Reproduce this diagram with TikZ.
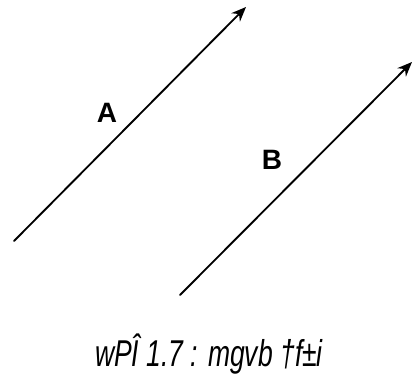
\documentclass[tikz,border=0pt]{standalone}
\usepackage{fontspec}
\setmainfont{Liberation Sans}
\usetikzlibrary{arrows.meta,positioning}

\begin{document}
\begin{tikzpicture}[x=0.75pt,y=-0.75pt,line cap=round,line join=round]
  \path[use as bounding box] (0,0) rectangle (413,379);
  \tikzset{vecline/.style={black,line width=1.4pt,-{Stealth[length=11pt,width=9pt]}}}

  % Two parallel vectors of equal length.
  \coordinate (Atail) at (14,241);
  \coordinate (Ahead) at (246,7);
  \coordinate (Btail) at (180,295);
  \coordinate (Bhead) at (412,62);
  \draw[vecline] (Atail) -- (Ahead);
  \draw[vecline] (Btail) -- (Bhead);

  \node[font=\fontsize{21}{24}\selectfont\bfseries] (labA) at (107,113) {A};
  \node[font=\fontsize{21}{24}\selectfont\bfseries] (labB) at (272,160) {B};

  % Caption as printed.
  \node (caption) at (209,354)
    {\scalebox{0.71}[1]{\fontsize{28}{32}\selectfont\itshape wPÎ 1.7 : mgvb †f±i}};
\end{tikzpicture}
\end{document}
